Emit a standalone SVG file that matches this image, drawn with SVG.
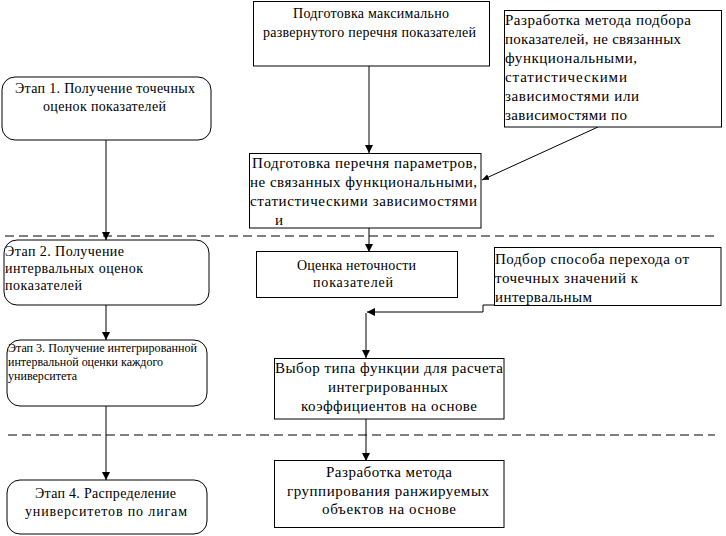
<svg xmlns="http://www.w3.org/2000/svg" width="726" height="536" viewBox="0 0 726 536">
<style>
.bx{fill:#fff;stroke:#000;stroke-width:1}
text{font-family:'Liberation Serif','Times New Roman',serif;fill:#000}
.t{font-size:14px}
.t15{font-size:15px}
.t12{font-size:12px}
.ln{fill:none;stroke:#000;stroke-width:1}
.dash{fill:none;stroke:#000;stroke-width:1;stroke-dasharray:9 5}
</style>
<defs>
<marker id="ah" markerWidth="8" markerHeight="8" refX="8" refY="4" orient="auto" markerUnits="userSpaceOnUse">
<path d="M0,0 L8,4 L0,8 Z" fill="#000"/>
</marker>
<marker id="ahs" markerWidth="7" markerHeight="6" refX="7" refY="3" orient="auto" markerUnits="userSpaceOnUse">
<path d="M0,0 L7,3 L0,6 Z" fill="#000"/>
</marker>
</defs>
<rect width="726" height="536" fill="#fff"/>
<g id="separators">
<line class="dash" x1="5" y1="236" x2="715" y2="236"/>
<line class="dash" x1="8" y1="435" x2="715" y2="435"/>
</g>
<g id="connectors">
<line class="ln" x1="106" y1="140" x2="106" y2="240" marker-end="url(#ah)"/>
<line class="ln" x1="106" y1="305" x2="106" y2="340" marker-end="url(#ah)"/>
<line class="ln" x1="106" y1="406" x2="106" y2="480" marker-end="url(#ah)"/>
<line class="ln" x1="369" y1="66" x2="369" y2="153" marker-end="url(#ah)"/>
<line class="ln" x1="369" y1="214" x2="369" y2="252" marker-end="url(#ah)"/>
<line class="ln" x1="598" y1="127" x2="482" y2="180" stroke-width="0.8" marker-end="url(#ahs)"/>
<polyline class="ln" points="597,305 483,305 483,312 367,312" marker-end="url(#ah)"/>
<line class="ln" x1="366" y1="313" x2="366" y2="358" marker-end="url(#ah)"/>
<line class="ln" x1="366" y1="419" x2="366" y2="461" marker-end="url(#ah)"/>
</g>
<g id="n_max_list">
<rect class="bx" x="253.5" y="1.5" width="236" height="64.5"/>
<text class="t" x="293" y="18" textLength="156" lengthAdjust="spacing">Подготовка максимально</text>
<text class="t" x="263" y="37" textLength="213" lengthAdjust="spacing">развернутого перечня показателей</text>
</g>
<g id="n_method_select">
<rect class="bx" x="504.5" y="10.5" width="217" height="116.5"/>
<text class="t15" x="505" y="25" textLength="186" lengthAdjust="spacing">Разработка метода подбора</text>
<text class="t15" x="505" y="44" textLength="176" lengthAdjust="spacing">показателей, не связанных</text>
<text class="t15" x="505" y="63" textLength="132" lengthAdjust="spacing">функциональными,</text>
<text class="t15" x="505" y="82" textLength="122" lengthAdjust="spacing">статистическими</text>
<text class="t15" x="505" y="101" textLength="134" lengthAdjust="spacing">зависимостями или</text>
<text class="t15" x="505" y="120" textLength="122" lengthAdjust="spacing">зависимостями по</text>
</g>
<g id="n_stage1">
<rect class="bx" x="2" y="77" width="209" height="63" rx="13"/>
<text class="t" x="15" y="93" textLength="180" lengthAdjust="spacing">Этап 1. Получение точечных</text>
<text class="t" x="43" y="111" textLength="123" lengthAdjust="spacing">оценок показателей</text>
</g>
<g id="n_param_list">
<rect class="bx" x="249.5" y="153.5" width="231.5" height="74.5"/>
<text class="t15" x="252" y="168" textLength="225" lengthAdjust="spacing">Подготовка перечня параметров,</text>
<text class="t15" x="250" y="187" textLength="227" lengthAdjust="spacing">не связанных функциональными,</text>
<text class="t15" x="250" y="206" textLength="227" lengthAdjust="spacing">статистическими зависимостями</text>
<text class="t15" x="275" y="225">и</text>
</g>
<g id="n_stage2">
<rect class="bx" x="4" y="240" width="205" height="65" rx="13"/>
<text class="t" x="5" y="256" textLength="119" lengthAdjust="spacing">Этап 2. Получение</text>
<text class="t" x="5" y="273" textLength="138" lengthAdjust="spacing">интервальных оценок</text>
<text class="t" x="5" y="290" textLength="77" lengthAdjust="spacing">показателей</text>
</g>
<g id="n_inaccuracy">
<rect class="bx" x="256.5" y="251.5" width="201" height="46"/>
<text class="t" x="297" y="270" textLength="119" lengthAdjust="spacing">Оценка неточности</text>
<text class="t" x="313" y="287" textLength="80" lengthAdjust="spacing">показателей</text>
</g>
<g id="n_transition">
<rect class="bx" x="494.5" y="247.5" width="226.5" height="58"/>
<text class="t15" x="495" y="264" textLength="194" lengthAdjust="spacing">Подбор способа перехода от</text>
<text class="t15" x="495" y="283" textLength="143" lengthAdjust="spacing">точечных значений к</text>
<text class="t15" x="495" y="302" textLength="97" lengthAdjust="spacing">интервальным</text>
</g>
<g id="n_stage3">
<rect class="bx" x="7" y="340" width="200" height="66" rx="13"/>
<text class="t12" x="8" y="352" textLength="189" lengthAdjust="spacingAndGlyphs">Этап 3. Получение интегрированной</text>
<text class="t12" x="8" y="366" textLength="155" lengthAdjust="spacing">интервальной оценки каждого</text>
<text class="t12" x="8" y="380" textLength="69" lengthAdjust="spacing">университета</text>
</g>
<g id="n_function_type">
<rect class="bx" x="274.5" y="358.5" width="229.5" height="60.5"/>
<text class="t15" x="275" y="373" textLength="228" lengthAdjust="spacing">Выбор типа функции для расчета</text>
<text class="t15" x="328" y="392" textLength="120" lengthAdjust="spacing">интегрированных</text>
<text class="t15" x="301" y="411" textLength="176" lengthAdjust="spacing">коэффициентов на основе</text>
</g>
<g id="n_stage4">
<rect class="bx" x="7" y="480" width="200" height="54" rx="13"/>
<text class="t" x="35" y="498" textLength="141" lengthAdjust="spacing">Этап 4. Распределение</text>
<text class="t" x="25" y="516" textLength="162" lengthAdjust="spacing">университетов по лигам</text>
</g>
<g id="n_grouping">
<rect class="bx" x="274.5" y="460.5" width="229.5" height="67"/>
<text class="t15" x="326" y="477" textLength="126" lengthAdjust="spacing">Разработка метода</text>
<text class="t15" x="287" y="496" textLength="202" lengthAdjust="spacing">группирования ранжируемых</text>
<text class="t15" x="322" y="514" textLength="134" lengthAdjust="spacing">объектов  на основе</text>
</g>
</svg>
